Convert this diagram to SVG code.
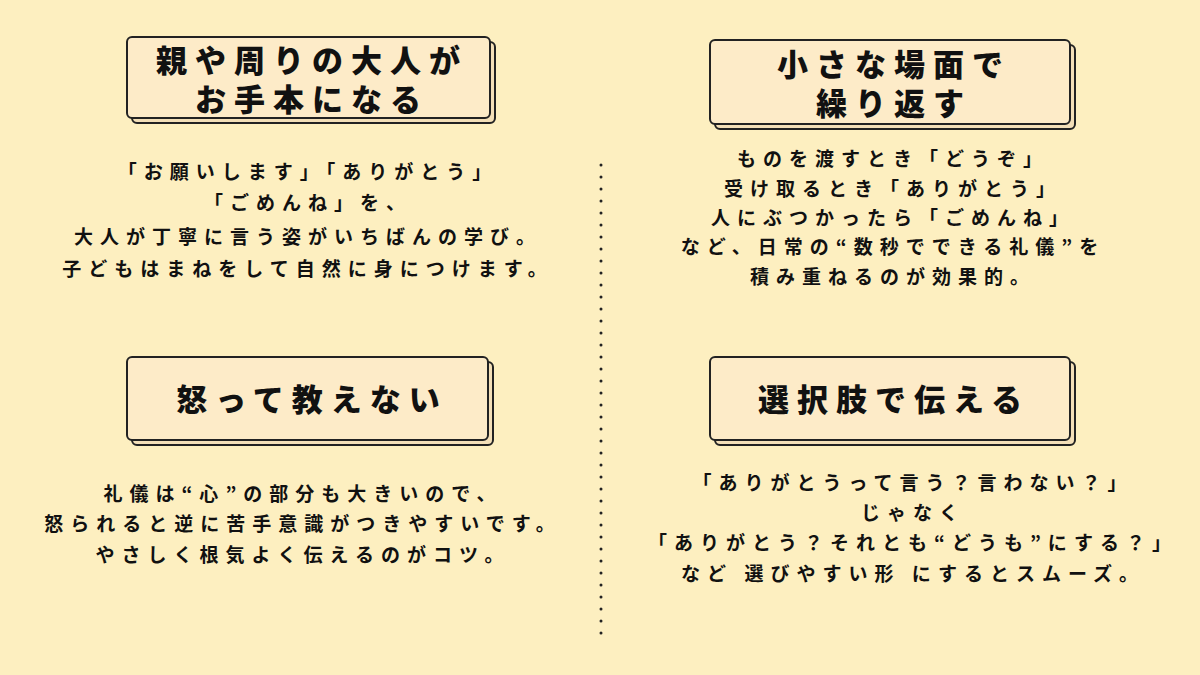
<svg xmlns="http://www.w3.org/2000/svg" width="1200" height="675" viewBox="0 0 1200 675">
<style>
.sh{fill:#f3dfb8;stroke:#222;stroke-width:2}
.bx{fill:#fdebc8;stroke:#222;stroke-width:2}
.t{font-family:"Noto Sans CJK JP",sans-serif;font-weight:900;fill:#111;text-anchor:middle}
.h{font-size:31px;letter-spacing:8px}
.b{font-size:19px;letter-spacing:7px;font-weight:700}
</style>
<rect width="1200" height="675" fill="#fdefc0"/>
<g id="connectors"><line x1="601" y1="165" x2="601" y2="640" stroke="#222" stroke-width="3" stroke-dasharray="0 12" stroke-linecap="round"/></g>
<g id="n1"><rect class="sh" x="132" y="42" width="363" height="81" rx="5"/><rect class="bx" x="127" y="37" width="363" height="81" rx="5"/>
<text class="t h" x="312" y="72">親や周りの大人が</text><text class="t h" x="312" y="111">お手本になる</text></g>
<g id="n2"><rect class="sh" x="715" y="45" width="360" height="84" rx="5"/><rect class="bx" x="710" y="40" width="360" height="84" rx="5"/>
<text class="t h" x="894" y="76">小さな場面で</text><text class="t h" x="894" y="115">繰り返す</text></g>
<g id="n3"><rect class="sh" x="132" y="362" width="361" height="83" rx="5"/><rect class="bx" x="127" y="357" width="361" height="83" rx="5"/>
<text class="t h" x="312" y="411">怒って教えない</text></g>
<g id="n4"><rect class="sh" x="715" y="362" width="360" height="83" rx="5"/><rect class="bx" x="710" y="357" width="360" height="83" rx="5"/>
<text class="t h" x="894" y="411">選択肢で伝える</text></g>
<g id="body1" class="t b">
<text x="308" y="179">「お願いします」「ありがとう」</text>
<text x="308" y="210">「ごめんね」を、</text>
<text x="308" y="244">大人が丁寧に言う姿がいちばんの学び。</text>
<text x="308" y="276">子どもはまねをして自然に身につけます。</text></g>
<g id="body2" class="t b">
<text x="893" y="166">ものを渡すとき「どうぞ」</text>
<text x="893" y="196">受け取るとき「ありがとう」</text>
<text x="893" y="225">人にぶつかったら「ごめんね」</text>
<text x="893" y="254">など、日常の“数秒でできる礼儀”を</text>
<text x="893" y="284">積み重ねるのが効果的。</text></g>
<g id="body3" class="t b">
<text x="303" y="501">礼儀は“心”の部分も大きいので、</text>
<text x="303" y="531">怒られると逆に苦手意識がつきやすいです。</text>
<text x="303" y="562">やさしく根気よく伝えるのがコツ。</text></g>
<g id="body4" class="t b">
<text x="913" y="490">「ありがとうって言う？言わない？」</text>
<text x="913" y="520">じゃなく</text>
<text x="913" y="550">「ありがとう？それとも“どうも”にする？」</text>
<text x="913" y="581">など 選びやすい形 にするとスムーズ。</text></g>
</svg>
